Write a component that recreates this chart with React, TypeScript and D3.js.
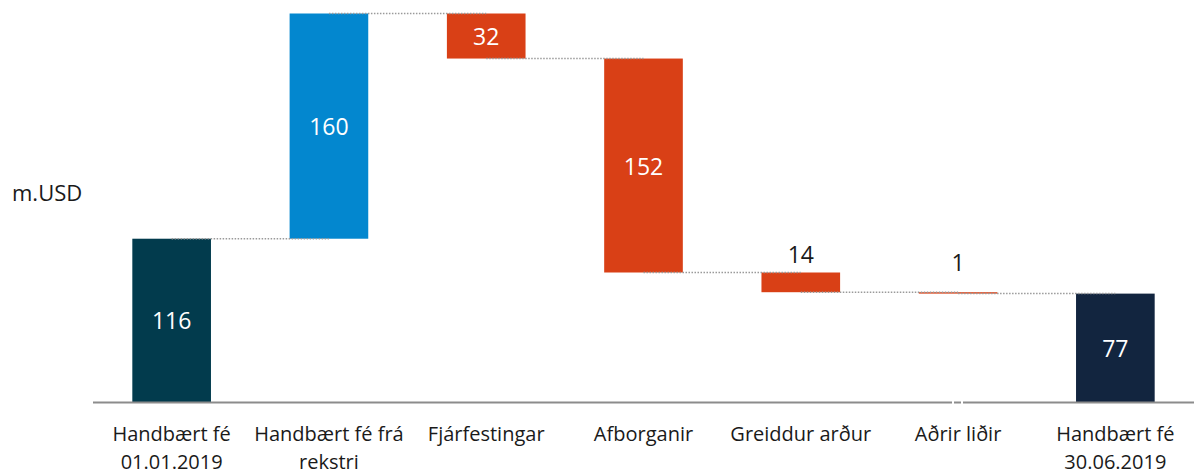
import * as d3 from "d3";

const categories = [
  ["Handbært fé", "01.01.2019"],
  ["Handbært fé frá", "rekstri"],
  ["Fjárfestingar"],
  ["Afborganir"],
  ["Greiddur arður"],
  ["Aðrir liðir"],
  ["Handbært fé", "30.06.2019"],
];
const values = [116, 160, -32, -152, -14, -1, 77];
const kinds = ["start", "up", "down", "down", "down", "down", "end"];
const labels = ["116", "160", "32", "152", "14", "1", "77"];
const unitLabel = "m.USD";

const colors: Record<string, string> = {
  start: "#023B4D",
  up: "#0387CF",
  down: "#D94016",
  end: "#12253F",
};

const width = 1200;
const height = 472;
const font = "'Open Sans', sans-serif";

export default function App() {
  // running totals for the waterfall
  let run = 0;
  const bars = values.map((v, i) => {
    const k = kinds[i];
    let y0, y1;
    if (k === "start" || k === "end") {
      y0 = 0;
      y1 = v;
      run = v;
    } else {
      y0 = run;
      y1 = run + v;
      run = y1;
    }
    return { i, k, y0, y1, end: run, label: labels[i] };
  });

  const x = d3
    .scaleBand<number>()
    .domain(d3.range(values.length))
    .range([93, 1194])
    .paddingInner(0.5)
    .paddingOuter(0.25);

  const y = d3.scaleLinear().domain([0, 276]).range([402, 13.5]);

  const bw = x.bandwidth();
  const cx = (i: number) => (x(i) as number) + bw / 2;

  return (
    <svg
      width={width}
      height={height}
      style={{ position: "absolute", left: 0, top: 0, background: "#fff" }}
      fontFamily={font}
    >
      <text x={12} y={200.5} fontSize={22} fill="#1a1a1a">
        {unitLabel}
      </text>

      {bars.map((b) => {
        const top = y(Math.max(b.y0, b.y1));
        const bot = y(Math.min(b.y0, b.y1));
        return (
          <rect
            key={"r" + b.i}
            x={x(b.i)}
            y={top}
            width={bw}
            height={Math.max(bot - top, 1.4)}
            fill={colors[b.k]}
          />
        );
      })}

      {bars.slice(0, -1).map((b) => (
        <line
          key={"c" + b.i}
          x1={cx(b.i)}
          x2={cx(b.i + 1)}
          y1={y(b.end)}
          y2={y(b.end)}
          stroke="#9a9a9a"
          strokeWidth={1.5}
          strokeDasharray="1.5 1.5"
        />
      ))}

      <line x1={93} x2={1194} y1={402.5} y2={402.5} stroke="#8c8c8c" strokeWidth={2} />
      <line x1={953} x2={953} y1={401} y2={404} stroke="#fff" strokeWidth={2} />
      <line x1={962} x2={962} y1={401} y2={404} stroke="#fff" strokeWidth={2} />

      {bars.map((b) => {
        const top = y(Math.max(b.y0, b.y1));
        const bot = y(Math.min(b.y0, b.y1));
        const h = bot - top;
        const inside = h > 30;
        const ty = inside ? (top + bot) / 2 : top - 10 - (h < 5 ? 11 : 0);
        return (
          <text
            key={"v" + b.i}
            x={cx(b.i)}
            y={ty}
            textAnchor="middle"
            dominantBaseline={inside ? "central" : "auto"}
            fontSize={23}
            fill={inside ? "#fff" : "#1a1a1a"}
          >
            {b.label}
          </text>
        );
      })}

      {categories.map((lines, i) => (
        <text
          key={"t" + i}
          x={cx(i)}
          y={441}
          textAnchor="middle"
          fontSize={20}
          fill="#1a1a1a"
        >
          {lines.map((l, j) => (
            <tspan key={j} x={cx(i)} dy={j === 0 ? 0 : 28}>
              {l}
            </tspan>
          ))}
        </text>
      ))}
    </svg>
  );
}
